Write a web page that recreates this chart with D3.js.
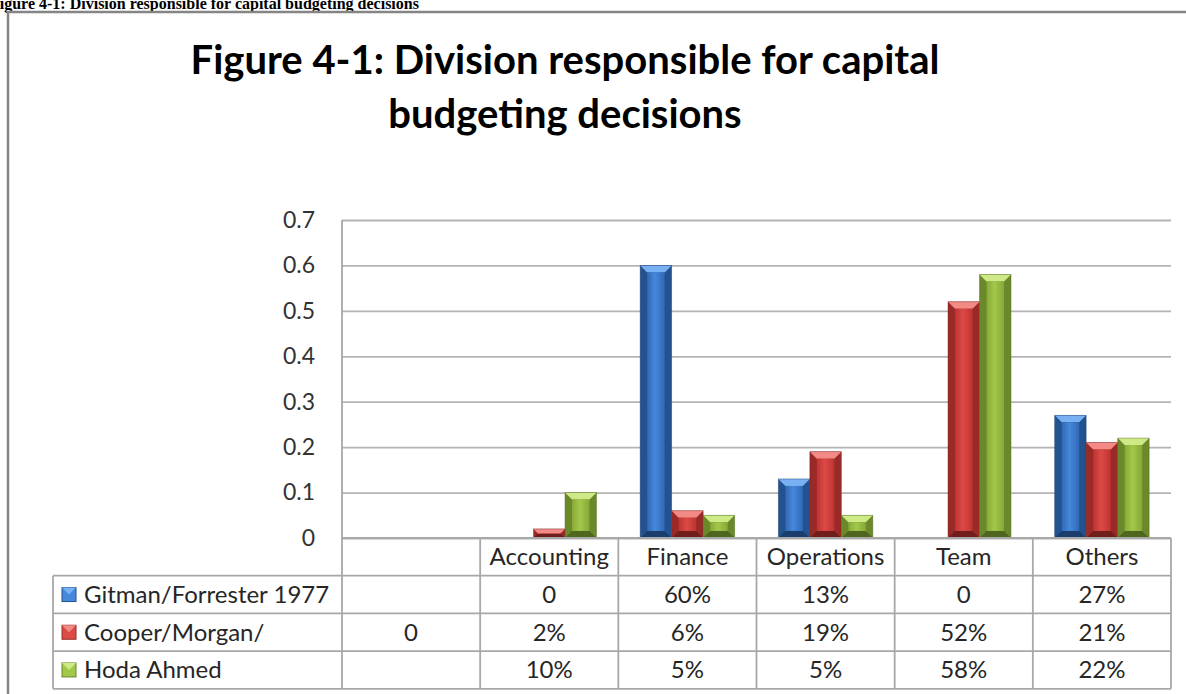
<!DOCTYPE html>
<html>
<head>
<meta charset="utf-8">
<script src="https://cdn.jsdelivr.net/npm/d3@7"></script>
<style>
  body { margin: 0; background: #fff; }
  svg { display: block; font-family: Lato, "Open Sans", sans-serif; }
</style>
</head>
<body>
<div id="chart"></div>
<script>
// chart data
var categories = ["", "Accounting", "Finance", "Operations", "Team", "Others"];
var seriesNames = ["Gitman/Forrester 1977", "Cooper/Morgan/", "Hoda Ahmed"];
var gitman = [null, 0, 0.60, 0.13, 0, 0.27];
var cooper = [0, 0.02, 0.06, 0.19, 0.52, 0.21];
var hoda   = [null, 0.10, 0.05, 0.05, 0.58, 0.22];
var yTicks = [0, 0.1, 0.2, 0.3, 0.4, 0.5, 0.6, 0.7];

var series = [gitman, cooper, hoda];

// bevel colours: top, face light, face dark, side, bottom
var palettes = [
    { top: "#78b0f4", face1: "#4688da", face2: "#2f68b6", side: "#24528f", bottom: "#1b3d6c" },
    { top: "#f48a86", face1: "#dc4a46", face2: "#bd3431", side: "#9a2a28", bottom: "#6f1e1c" },
    { top: "#cdea86", face1: "#a2c84a", face2: "#86a936", side: "#6b882a", bottom: "#4f661e" }
];

var W = 1186, H = 694;
var plotLeft = 342, plotRight = 1171, plotTop = 220, plotBottom = 538;
var rowH = 37.7;
var tableFont = "24px";

var svg = d3.select("#chart").append("svg")
    .attr("width", W)
    .attr("height", H);

// document caption, cut off at the left edge like the scan
svg.append("text")
    .attr("x", -10)
    .attr("y", 9)
    .style("font-family", "'Liberation Serif', 'Times New Roman', serif")
    .style("font-weight", "bold")
    .style("font-size", "16px")
    .text("Figure 4-1: Division responsible for capital budgeting decisions");

// chart frame
svg.append("path")
    .attr("d", "M8," + H + "V12H" + W)
    .attr("fill", "none")
    .attr("stroke", "#858585")
    .attr("stroke-width", 2.5);

// title
var title = svg.append("text")
    .attr("text-anchor", "middle")
    .style("font-weight", "bold")
    .style("font-size", "40px")
    .attr("fill", "#000");
title.append("tspan").attr("x", 565).attr("y", 74).text("Figure 4-1: Division responsible for capital");
title.append("tspan").attr("x", 565).attr("y", 128).text("budgeting decisions");

var x = d3.scaleBand().domain(categories).range([plotLeft, plotRight]);
var y = d3.scaleLinear().domain([0, 0.7]).range([plotBottom, plotTop]);
var barW = x.bandwidth() * 0.228;

// gridlines and y labels
var yAxis = d3.axisLeft(y)
    .tickValues(yTicks)
    .tickSizeInner(-(plotRight - plotLeft))
    .tickSizeOuter(0)
    .tickPadding(27)
    .tickFormat(function(d) { return d === 0 ? "0" : d3.format(".1f")(d); });

var gy = svg.append("g")
    .attr("transform", "translate(" + plotLeft + ",0)")
    .call(yAxis);
gy.select(".domain").remove();
gy.selectAll(".tick line").attr("stroke", "#b4b4b4").attr("stroke-width", 1.8);
gy.selectAll(".tick text")
    .attr("fill", "#333")
    .style("font-family", "Lato, sans-serif")
    .style("font-size", "23px");

// vertical axis line (continues down through the table)
svg.append("line")
    .attr("x1", plotLeft).attr("x2", plotLeft)
    .attr("y1", plotTop).attr("y2", plotBottom + rowH * 4)
    .attr("stroke", "#a8a8a8").attr("stroke-width", 1.8);

// bars with an Excel-style bevel
var bars = svg.append("g");
series.forEach(function(values, si) {
    var pal = palettes[si];
    var gradId = "face" + si;
    var grad = svg.append("defs").append("linearGradient")
        .attr("id", gradId).attr("x1", 0).attr("x2", 1).attr("y1", 0).attr("y2", 0);
    grad.append("stop").attr("offset", "0%").attr("stop-color", pal.face2);
    grad.append("stop").attr("offset", "45%").attr("stop-color", pal.face1);
    grad.append("stop").attr("offset", "100%").attr("stop-color", pal.face2);

    values.forEach(function(v, ci) {
        if (v === null || v <= 0) return;
        var x0 = x(categories[ci]) + x.bandwidth() / 2 - 1.5 * barW + si * barW;
        var x1 = x0 + barW;
        var y0 = y(v), y1 = y(0);
        var h = y1 - y0;
        var b = Math.min(7, h / 2, barW / 2);
        var g = bars.append("g");
        g.append("rect")
            .attr("x", x0).attr("y", y0).attr("width", barW).attr("height", h)
            .attr("fill", pal.side);
        // bottom band
        g.append("polygon")
            .attr("points", [[x0, y1], [x1, y1], [x1 - b, y1 - b], [x0 + b, y1 - b]].join(" "))
            .attr("fill", pal.bottom);
        // top band
        g.append("polygon")
            .attr("points", [[x0, y0], [x1, y0], [x1 - b, y0 + b], [x0 + b, y0 + b]].join(" "))
            .attr("fill", pal.top);
        // face
        g.append("rect")
            .attr("x", x0 + b).attr("y", y0 + b)
            .attr("width", barW - 2 * b).attr("height", Math.max(0, h - 2 * b))
            .attr("fill", "url(#" + gradId + ")");
        g.append("rect")
            .attr("x", x0).attr("y", y0).attr("width", barW).attr("height", h)
            .attr("fill", "none").attr("stroke", pal.bottom).attr("stroke-opacity", 0.5).attr("stroke-width", 0.8);
    });
});

// data table
var table = svg.append("g");
var lineColor = "#a8a8a8";
var tableBottom = plotBottom + rowH * 4;

// horizontal lines
table.append("line")
    .attr("x1", plotLeft).attr("x2", plotRight)
    .attr("y1", plotBottom).attr("y2", plotBottom)
    .attr("stroke", lineColor).attr("stroke-width", 1.8);
[1, 2, 3, 4].forEach(function(r) {
    table.append("line")
        .attr("x1", 53).attr("x2", plotRight)
        .attr("y1", plotBottom + rowH * r).attr("y2", plotBottom + rowH * r)
        .attr("stroke", lineColor).attr("stroke-width", 1.8);
});
// vertical lines
table.append("line")
    .attr("x1", 53).attr("x2", 53)
    .attr("y1", plotBottom + rowH).attr("y2", tableBottom)
    .attr("stroke", lineColor).attr("stroke-width", 1.8);
categories.forEach(function(c) {
    var cx = x(c) + x.bandwidth();
    table.append("line")
        .attr("x1", cx).attr("x2", cx)
        .attr("y1", plotBottom).attr("y2", tableBottom)
        .attr("stroke", lineColor).attr("stroke-width", 1.8);
});

var fmtCell = function(v) {
    if (v === null) return "";
    if (v === 0) return "0";
    return Math.round(v * 100) + "%";
};

// header row
table.selectAll(".hdr").data(categories).enter().append("text")
    .attr("x", function(d) { return x(d) + x.bandwidth() / 2; })
    .attr("y", plotBottom + rowH / 2 + 8.5)
    .attr("text-anchor", "middle")
    .attr("fill", "#262626")
    .style("font-size", tableFont)
    .text(function(d) { return d; });

series.forEach(function(values, si) {
    var cy = plotBottom + rowH * (si + 1) + rowH / 2;
    var pal = palettes[si];
    table.append("rect")
        .attr("x", 62).attr("y", cy - 7).attr("width", 14).attr("height", 14)
        .attr("fill", pal.face1).attr("stroke", pal.side).attr("stroke-width", 1);
    table.append("polygon")
        .attr("points", [[62, cy - 7], [76, cy - 7], [69, cy]].join(" "))
        .attr("fill", pal.top);
    table.append("text")
        .attr("x", 84).attr("y", cy + 8.5)
        .attr("fill", "#262626")
        .style("font-size", tableFont)
        .text(seriesNames[si]);
    table.selectAll(".cell" + si).data(values).enter().append("text")
        .attr("x", function(d, i) { return x(categories[i]) + x.bandwidth() / 2; })
        .attr("y", cy + 8.5)
        .attr("text-anchor", "middle")
        .attr("fill", "#262626")
        .style("font-size", tableFont)
        .text(fmtCell);
});
</script>
</body>
</html>
